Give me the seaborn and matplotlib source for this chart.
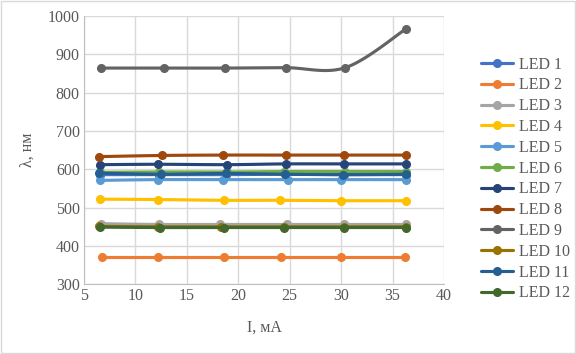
import numpy as np
import pandas as pd
import matplotlib
matplotlib.use("Agg")
import matplotlib.pyplot as plt
from matplotlib.lines import Line2D
from matplotlib.patches import Rectangle
import seaborn as sns

# данные
leds = [f"LED {i}" for i in range(1, 13)]
colors = ["#4472C4", "#ED7D31", "#A5A5A5", "#FFC000", "#5B9BD5", "#70AD47",
          "#264478", "#9E480E", "#636363", "#997300", "#255E91", "#43682B"]

current = {
    "LED 1": [6.6, 12.3, 18.8, 24.5, 30.3, 36.3],
    "LED 2": [6.8, 12.2, 18.6, 24.2, 30.0, 36.2],
    "LED 3": [6.7, 12.3, 18.2, 24.7, 30.3, 36.3],
    "LED 4": [6.6, 12.2, 18.6, 24.1, 30.0, 36.3],
    "LED 5": [6.6, 12.2, 18.5, 24.8, 30.0, 36.3],
    "LED 6": [6.6, 12.3, 18.9, 24.4, 30.4, 36.3],
    "LED 7": [6.6, 12.2, 18.9, 24.6, 30.3, 36.3],
    "LED 8": [6.5, 12.6, 18.5, 24.6, 30.3, 36.3],
    "LED 9": [6.7, 12.8, 18.7, 24.6, 30.4, 36.3],
    "LED 10": [6.5, 12.2, 18.3, 24.4, 30.3, 36.3],
    "LED 11": [6.5, 12.5, 18.8, 24.5, 30.2, 36.3],
    "LED 12": [6.6, 12.4, 18.6, 24.4, 30.3, 36.3],
}
wavelength = {
    "LED 1": [586, 586, 586, 587, 586, 586],
    "LED 2": [370, 370, 370, 370, 370, 370],
    "LED 3": [458, 456, 456, 456, 456, 456],
    "LED 4": [522, 521, 519, 519, 518, 518],
    "LED 5": [571, 573, 573, 573, 573, 573],
    "LED 6": [592, 593, 593, 594, 594, 594],
    "LED 7": [612, 613, 612, 614, 614, 614],
    "LED 8": [633, 636, 637, 637, 637, 637],
    "LED 9": [864, 864, 864, 865, 865, 966],
    "LED 10": [451, 450, 450, 450, 450, 450],
    "LED 11": [590, 587, 589, 587, 586, 587],
    "LED 12": [449, 448, 448, 448, 448, 448],
}


def smooth(x, y, n=20):
    # сглаживание как в Excel (Catmull-Rom)
    x = np.asarray(x, float)
    y = np.asarray(y, float)
    px = np.concatenate([[x[0]], x, [x[-1]]])
    py = np.concatenate([[y[0]], y, [y[-1]]])
    xs, ys = [], []
    t = np.linspace(0, 1, n)
    for i in range(1, len(px) - 2):
        p0, p1, p2, p3 = [np.array([px[j], py[j]]) for j in (i - 1, i, i + 1, i + 2)]
        c1 = p1 + (p2 - p0) / 6
        c2 = p2 - (p3 - p1) / 6
        b = ((1 - t) ** 3)[:, None] * p1 + (3 * (1 - t) ** 2 * t)[:, None] * c1 \
            + (3 * (1 - t) * t ** 2)[:, None] * c2 + (t ** 3)[:, None] * p2
        xs.extend(b[:, 0])
        ys.extend(b[:, 1])
    return xs, ys


rows = []
for led in leds:
    sx, sy = smooth(current[led], wavelength[led])
    rows += [(led, a, b) for a, b in zip(sx, sy)]
curves = pd.DataFrame(rows, columns=["LED", "I", "lam"])

sns.set_style("white")
plt.rcParams["font.family"] = ["Liberation Serif", "DejaVu Serif"]
text_color = "#595959"
fs = 11.5

fig = plt.figure(figsize=(5.76, 3.54), dpi=100)
ax = fig.add_axes([0.1458, 0.197, 0.625, 0.758])
fig.patches.append(Rectangle((0.001, 0.002), 0.997, 0.995, transform=fig.transFigure,
                             fill=False, edgecolor="#d9d9d9", linewidth=1))

palette = dict(zip(leds, colors))
for led in leds:
    sns.lineplot(data=curves[curves["LED"] == led], x="I", y="lam", color=palette[led],
                 sort=False, estimator=None, linewidth=2.25, ax=ax, legend=False)
    ax.plot(current[led], wavelength[led], "o", color=palette[led], markersize=5.5)

ax.set_xlim(5, 40)
ax.set_ylim(300, 1000)
ax.set_xticks(range(5, 41, 5))
ax.set_yticks(range(300, 1001, 100))
ax.grid(True, color="#d9d9d9", linewidth=1)
ax.set_axisbelow(True)
for s in ["top", "right"]:
    ax.spines[s].set_visible(False)
for s in ["left", "bottom"]:
    ax.spines[s].set_color("#bfbfbf")
ax.tick_params(length=0, labelsize=fs, colors=text_color, pad=3)
ax.set_xlabel("I, мА", fontsize=fs, color=text_color, labelpad=11)
ax.set_ylabel("λ, нм", fontsize=fs, color=text_color, labelpad=9)

handles = [Line2D([0], [0], color=c, linewidth=2.25, marker="o", markersize=5.5) for c in colors]
leg = ax.legend(handles, leds, loc="upper left", bbox_to_anchor=(1.085, 0.872),
                frameon=False, fontsize=fs, handlelength=2.0, handletextpad=0.35,
                labelspacing=0.3, borderaxespad=0)
for t in leg.get_texts():
    t.set_color(text_color)

fig.savefig("out.png", dpi=100)
